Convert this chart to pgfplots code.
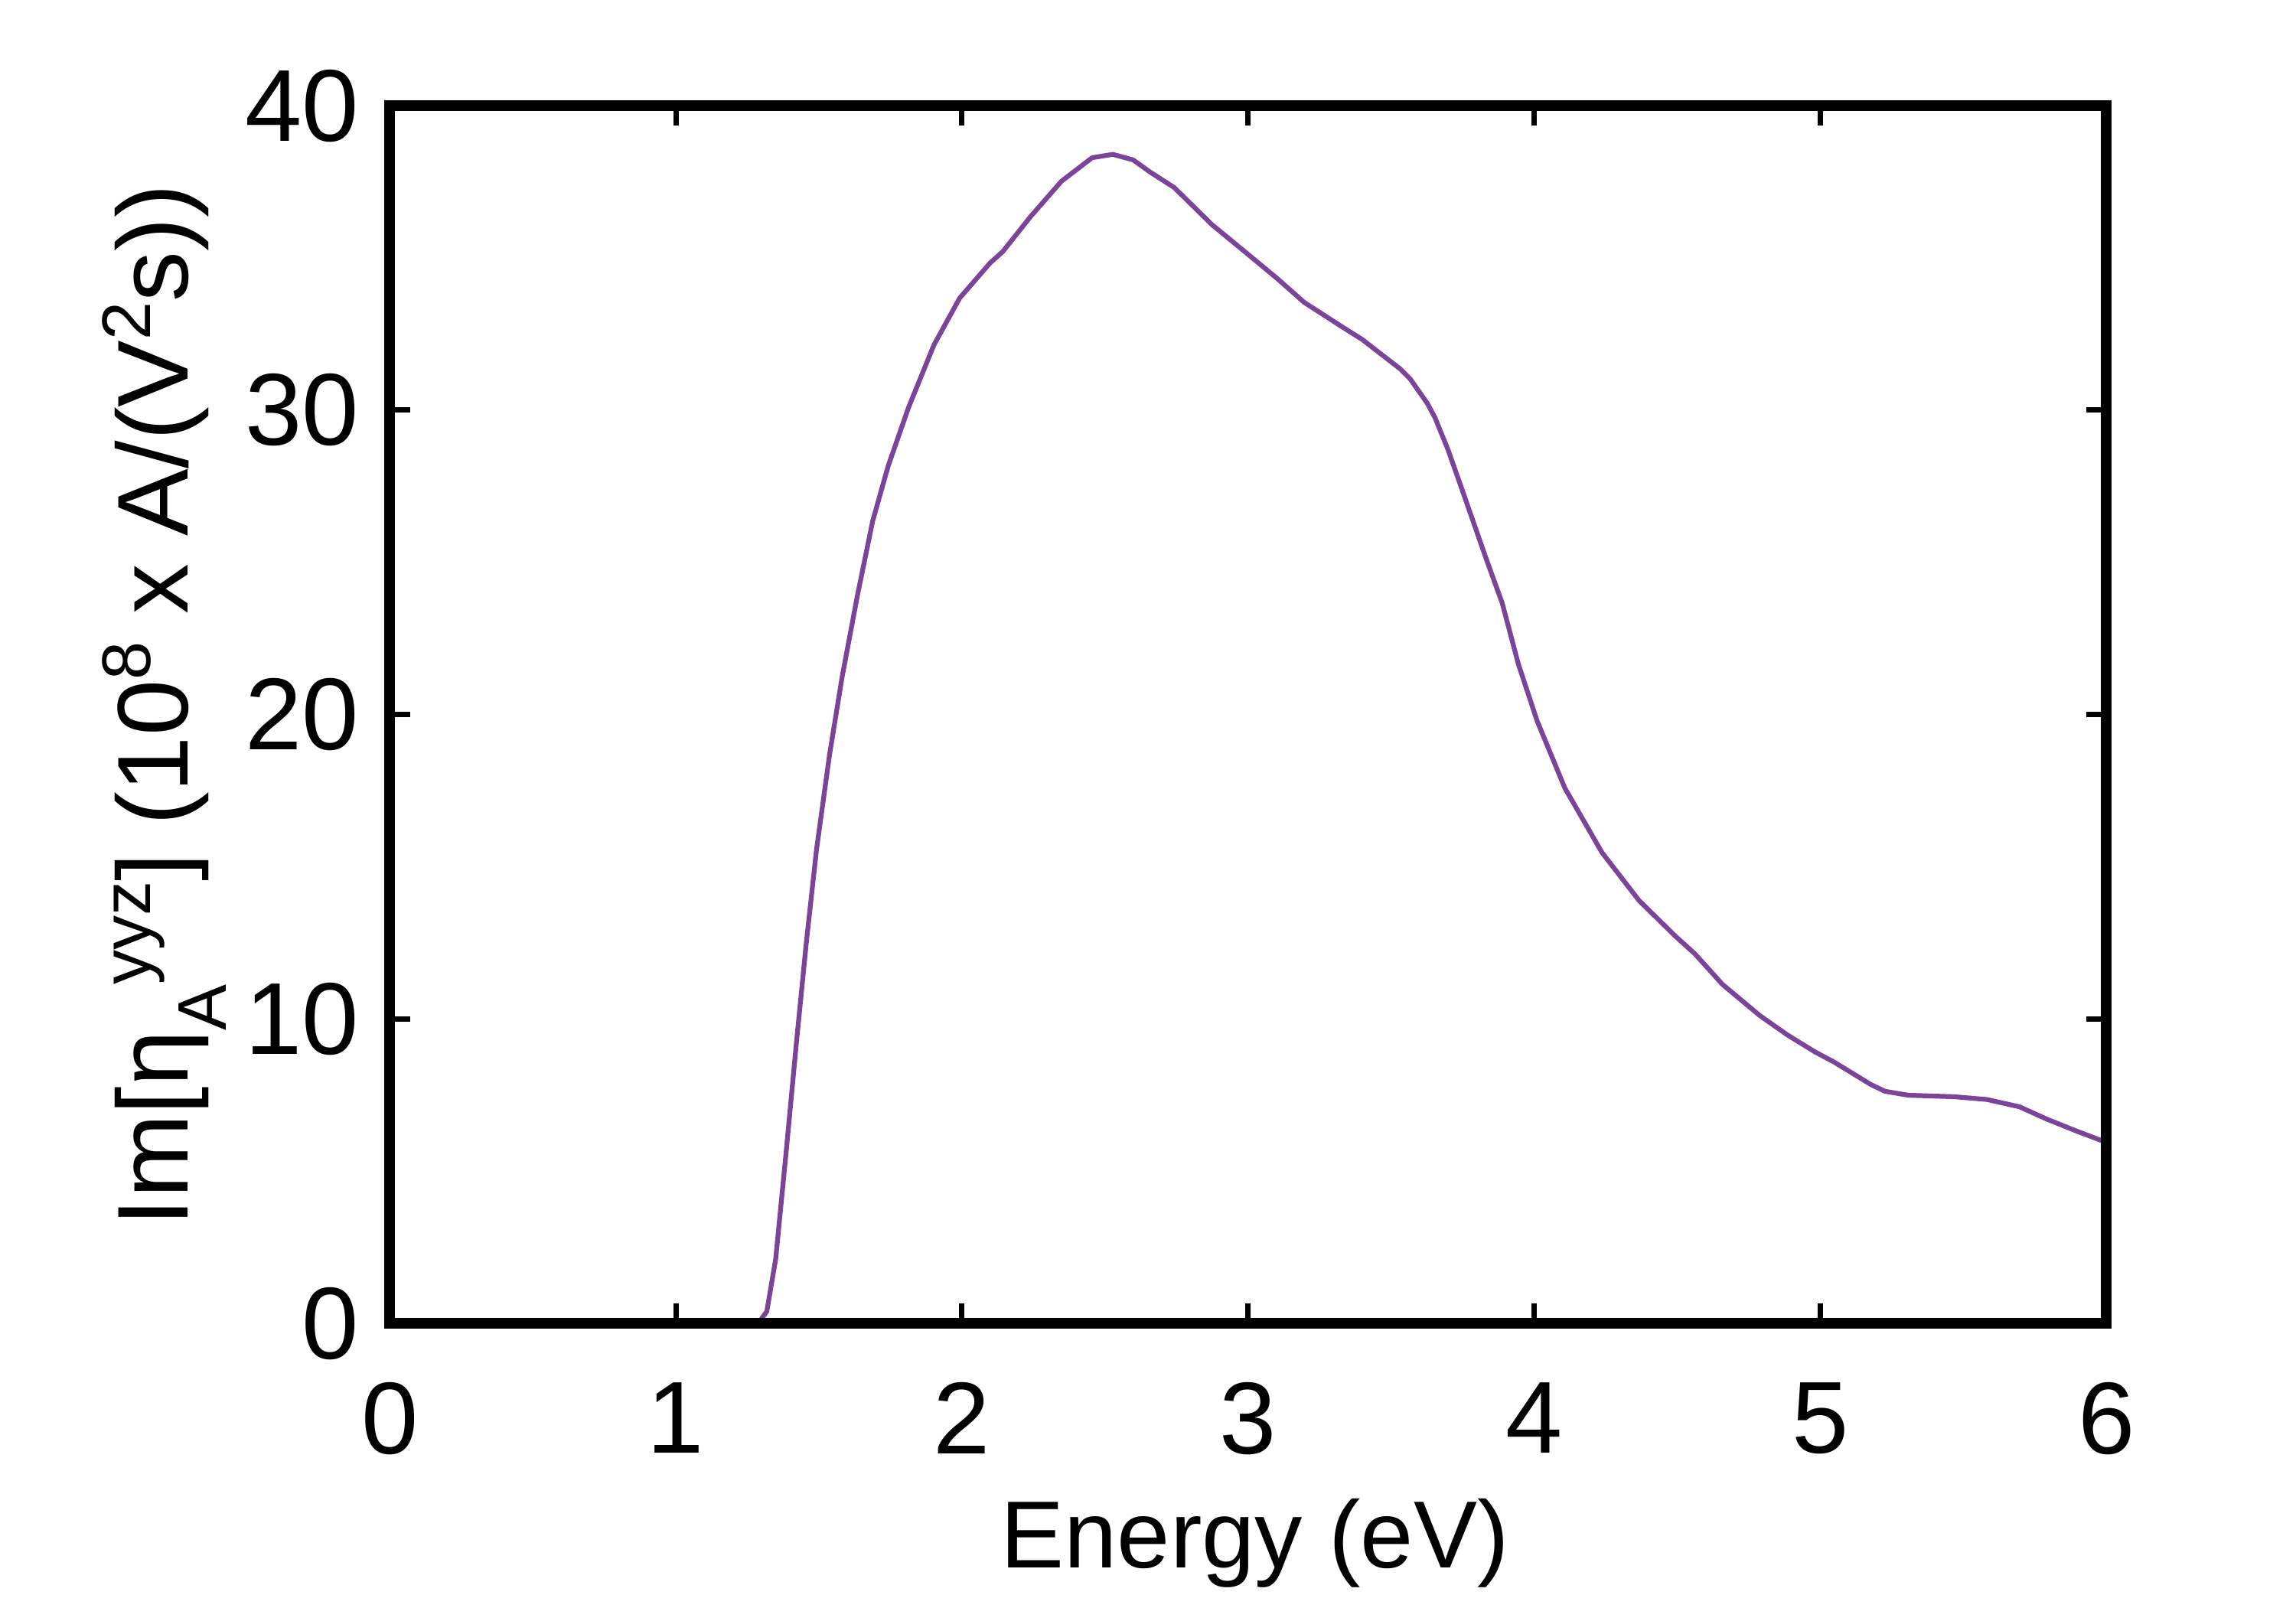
\documentclass[border=0pt]{standalone}
\usepackage{fontspec}
\setmainfont{Liberation Sans}
\usepackage{pgfplots}
\pgfplotsset{compat=1.18}
\definecolor{curve}{RGB}{123,68,154}
\newcommand{\sups}[1]{\raisebox{7pt}{\fontsize{13}{13}\selectfont #1}}
\newcommand{\subs}[1]{\raisebox{-7.2pt}{\fontsize{13}{13}\selectfont #1}}
\begin{document}
\begin{tikzpicture}
\path[use as bounding box] (-73.6pt,-53.6pt) rectangle (360.0pt,249.95pt);
\begin{axis}[
 scale only axis, width=324.2pt, height=230pt,
 xmin=0, xmax=6, ymin=0, ymax=40,
 xtick={0,1,2,3,4,5,6}, ytick={0,10,20,30,40},
 axis on top,
 axis line style={line width=2pt},
 major tick style={line width=1pt, black},
 major tick length=3.8pt,
 tick align=inside,
 minor tick num=0,
 /pgf/number format/assume math mode=true,
 ticklabel style={font=\fontsize{19.3}{22}\selectfont},
 xticklabel style={yshift=-7.6pt},
 yticklabel style={xshift=-2.3pt},
 xlabel={Energy (eV)},
 xlabel style={font=\fontsize{18}{21}\selectfont, at={(axis description cs:0.504,-0.2005)}, anchor=base},
 ylabel={Im[η\subs{A}\sups{yyz}] (10\sups{8} x A/(V\sups{2}s))},
 ylabel style={font=\fontsize{19}{22}\selectfont, at={(axis description cs:-0.1177,0.0645)}, anchor=base west},
]
\addplot[curve, line width=0.9pt, line join=round] coordinates {
(0,0) (1.0,0) (1.287,0.0) (1.318,0.4) (1.349,2.12) (1.385,5.58) (1.421,9.18)
(1.456,12.51) (1.492,15.59) (1.537,18.67) (1.581,21.23) (1.635,23.93)
(1.688,26.36) (1.742,28.16) (1.813,30.08) (1.902,32.14) (1.992,33.68)
(2.098,34.83) (2.143,35.21) (2.241,36.37) (2.348,37.52) (2.455,38.29)
(2.527,38.40) (2.598,38.22) (2.659,37.81) (2.742,37.31) (2.874,36.09)
(2.993,35.17) (3.101,34.33) (3.196,33.54) (3.328,32.74) (3.399,32.32)
(3.531,31.36) (3.567,31.02) (3.626,30.23) (3.653,29.76) (3.698,28.72)
(3.742,27.55) (3.831,25.15) (3.888,23.67) (3.945,21.65) (4.010,19.80)
(4.107,17.59) (4.237,15.47) (4.366,13.90) (4.496,12.70) (4.561,12.15)
(4.658,11.14) (4.788,10.12) (4.885,9.48) (4.982,8.92) (5.048,8.59)
(5.177,7.85) (5.226,7.63) (5.307,7.50) (5.469,7.45) (5.582,7.36)
(5.696,7.12) (5.793,6.71) (5.891,6.34) (6.0,5.95)
};
\end{axis}
\end{tikzpicture}
\end{document}
